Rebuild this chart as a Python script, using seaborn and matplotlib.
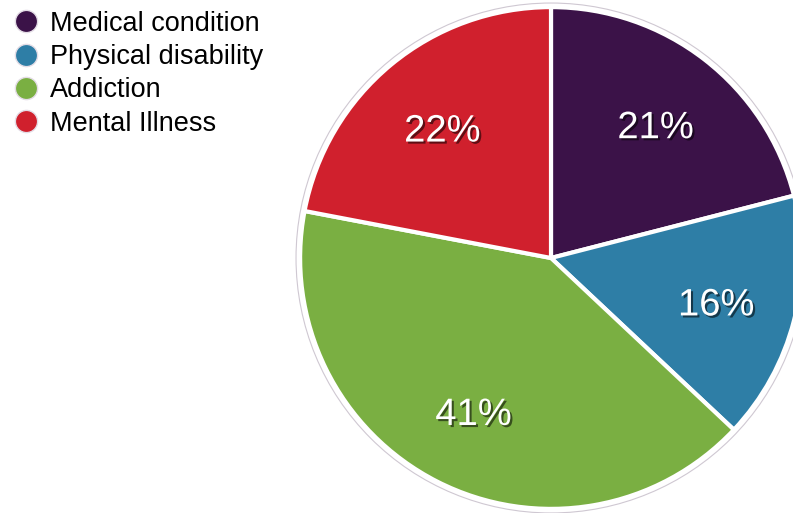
import matplotlib
matplotlib.use("Agg")
import matplotlib.pyplot as plt
from matplotlib.lines import Line2D
from matplotlib.patches import Circle
from matplotlib.transforms import ScaledTranslation
import matplotlib.patheffects as pe
import seaborn as sns

categories = ["Medical condition", "Physical disability", "Addiction", "Mental Illness"]
shares = [21, 16, 41, 22]
colors = ["#3b1248", "#2e7ea6", "#7aaf42", "#d0202d"]

sns.set_theme(style="white")
plt.rcParams["font.family"] = ["Liberation Sans", "DejaVu Sans"]

W, H = 793, 513
fig = plt.figure(figsize=(W / 100, H / 100), dpi=100)

cx, cy, r = 551, 258, 256
ax = fig.add_axes([(cx - r) / W, (H - cy - r) / H, 2 * r / W, 2 * r / H])

wedges, texts, autotexts = ax.pie(
    shares,
    colors=colors,
    startangle=90,
    counterclock=False,
    radius=0.98,
    autopct=lambda p: f"{p:.0f}%",
    pctdistance=0.68,
    wedgeprops=dict(edgecolor="white", linewidth=3),
    textprops=dict(color="white", fontsize=27.5),
)
ax.set_xlim(-1.0, 1.0)
ax.set_ylim(-1.0, 1.0)
ax.set_aspect("equal")
ax.axis("off")

# nudge the percentage labels so the digits sit optically centred
nudge = ScaledTranslation(0, -5 / 100, fig.dpi_scale_trans)
for t in autotexts:
    t.set_transform(ax.transData + nudge)
    t.set_path_effects([
        pe.SimplePatchShadow(offset=(1.5, -1.5), shadow_rgbFace="black", alpha=0.55),
        pe.Normal(),
    ])

ax.add_patch(Circle((0, 0), 0.996, fill=False, edgecolor="#cfc8d2", linewidth=0.8,
                    clip_on=False))

handles = [
    Line2D([0], [0], marker="o", linestyle="", markersize=16,
           markerfacecolor=c, markeredgecolor="#e4dde6", markeredgewidth=1.0)
    for c in colors
]
leg = fig.legend(
    handles, categories,
    loc="upper left", bbox_to_anchor=(0.0, 1.0),
    frameon=False, fontsize=19.5,
    handletextpad=0.35, labelspacing=0.27, borderaxespad=0.0,
    handlelength=1.1,
)
for t in leg.get_texts():
    t.set_color("black")

fig.savefig("out.png", dpi=100)
